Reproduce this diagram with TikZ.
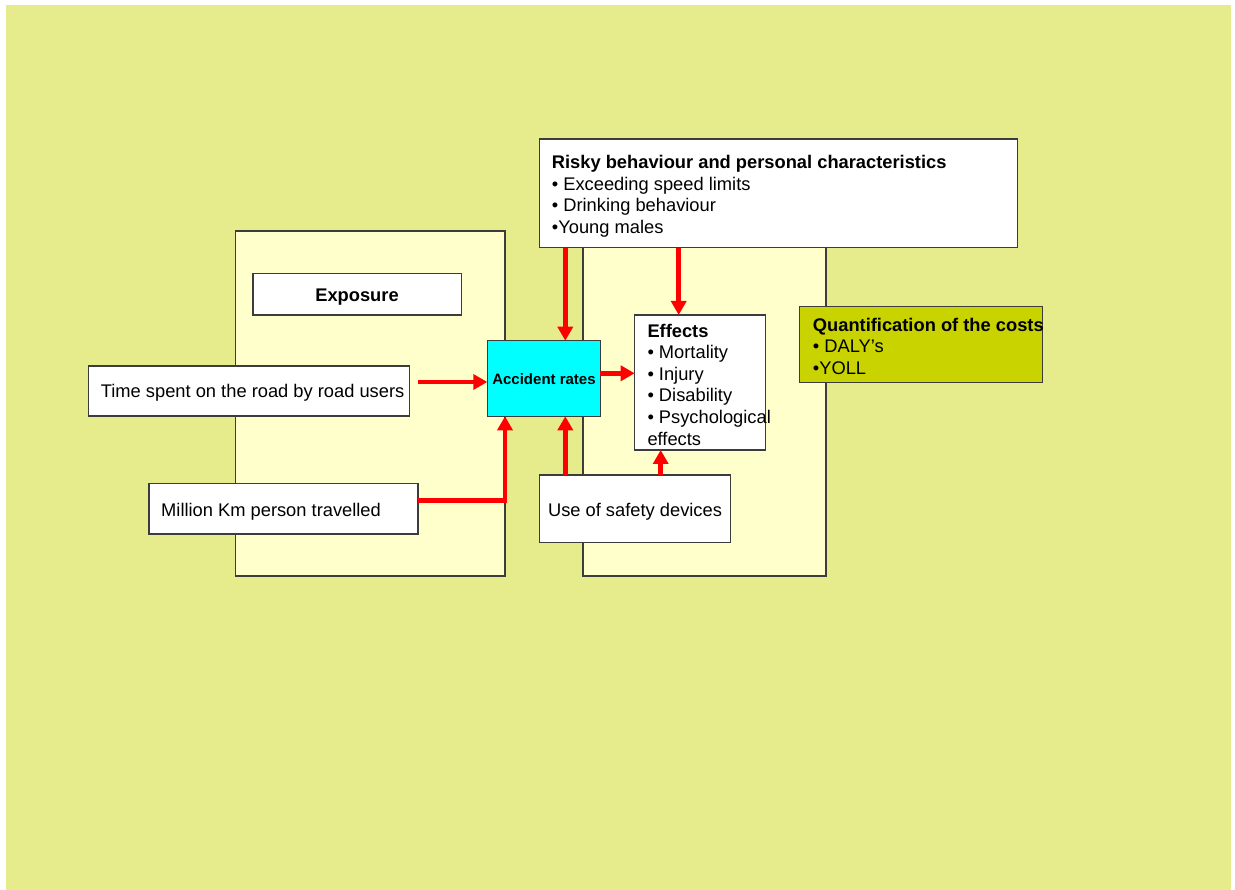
\documentclass[tikz,border=0pt]{standalone}
\usepackage{fontspec}
\setmainfont{Liberation Sans}
\usetikzlibrary{arrows.meta,calc}
\definecolor{bgyellow}{RGB}{230,235,140}
\definecolor{panelfill}{RGB}{255,255,204}
\definecolor{costfill}{RGB}{200,211,0}
\definecolor{ratefill}{RGB}{0,255,255}
\definecolor{edgegray}{RGB}{60,60,60}
\definecolor{arrowred}{RGB}{255,0,0}
\begin{document}
\begin{tikzpicture}[x=1pt,y=-1pt,
  box/.style={draw=edgegray, line width=1.3pt, fill=white, anchor=north west,
    inner sep=0pt, outer sep=0pt},
  panelbox/.style={box, fill=panelfill},
  txt/.style={inner sep=0pt, font=\fontsize{18.3}{21.6}\selectfont},
  block/.style={txt, anchor=north west, align=left},
  arr/.style={draw=arrowred, line width=4.6pt, -{Triangle[length=14pt,width=15pt]}}
]
\useasboundingbox (0,0) rectangle (1235,890);
\fill[white] (0,0) rectangle (1235,890);
\fill[bgyellow] (6,5) rectangle (1231,890);

% background panels
\node[panelbox, minimum width=269.5pt, minimum height=345pt] (leftpanel) at (235.5,231) {};
\node[panelbox, minimum width=243pt, minimum height=345pt] (rightpanel) at (583,231) {};

% boxes
\node[box, minimum width=208.3pt, minimum height=41.7pt] (expo) at (253,273.3) {};
\node[box, minimum width=321pt, minimum height=50pt] (time) at (88.3,366) {};
\node[box, minimum width=269pt, minimum height=50.3pt] (mil) at (149,483.7) {};
\node[box, fill=ratefill, minimum width=113pt, minimum height=75.6pt] (acc) at (487.3,340.7) {};
\node[box, minimum width=478pt, minimum height=108.7pt] (risky) at (539.3,139) {};
\node[box, minimum width=130.6pt, minimum height=135pt] (eff) at (634.7,315) {};
\node[box, fill=costfill, minimum width=243.4pt, minimum height=75.6pt] (cost) at (799.3,306.7) {};
\node[box, minimum width=191pt, minimum height=67.3pt] (safe) at (539.3,475) {};

% texts
\node[txt, anchor=base] (expoT) at (357,301.2) {\bfseries Exposure};
\node[txt, anchor=base west] (timeT) at (100.7,398) {Time spent on the road by road users};
\node[txt, anchor=base west] (milT) at (161,516.5) {Million Km person travelled};
\node[inner sep=0pt, anchor=base, font=\fontsize{15}{18}\selectfont\bfseries] (accT) at (544,384.5) {Accident rates};
\node[txt, anchor=base] (safeT) at (635,516.5) {Use of safety devices};
\node[block] (riskyT) at (551.7,153.5) {\rule{0pt}{15pt}\bfseries Risky behaviour and personal characteristics\\
  • Exceeding speed limits\\
  • Drinking behaviour\\
  •Young males};
\node[block] (effT) at (647.3,322) {\rule{0pt}{15pt}\bfseries Effects\\
  • Mortality\\
  • Injury\\
  • Disability\\
  • Psychological\\
  effects};
\node[block] (costT) at (812.7,316) {\rule{0pt}{15pt}\bfseries Quantification of the costs\\
  • DALY’s\\
  •YOLL};

% connectors
\coordinate (t1) at ($(time.east)+(8.7,-9)$);
\draw[arr] (t1) -- (t1 -| acc.west);
\coordinate (m1) at ($(mil.east)+(0,-8.6)$);
\coordinate (mx) at ($(acc.south west)+(17.7,0)$);
\draw[arr] (m1) -| (mx);
\coordinate (sx) at ($(acc.south west)+(78,0)$);
\draw[arr] (safe.north -| sx) -- (sx);
\draw[arr] (risky.south -| sx) -- (acc.north -| sx);
\coordinate (ex1) at ($(eff.north west)+(44,0)$);
\draw[arr] (risky.south -| ex1) -- (ex1);
\coordinate (ay) at ($(acc.east)+(0,-5.2)$);
\draw[arr] (ay) -- (ay -| eff.west);
\coordinate (ex2) at ($(eff.south west)+(26,0)$);
\draw[arr] (safe.north -| ex2) -- (ex2);
\end{tikzpicture}
\end{document}
